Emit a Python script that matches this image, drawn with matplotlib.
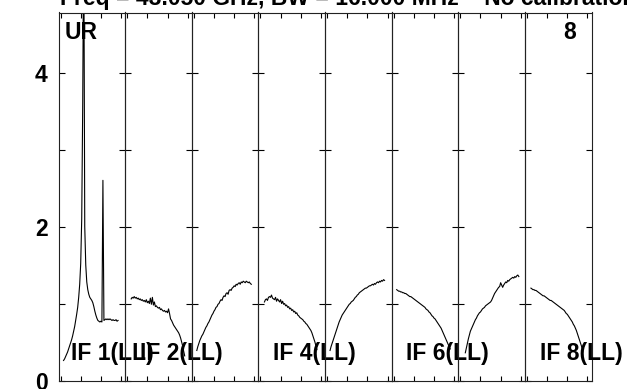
import matplotlib
matplotlib.use("Agg")
import matplotlib.pyplot as plt
import numpy as np

plt.rcParams['font.family'] = ['Liberation Sans', 'DejaVu Sans']

title_text = "Freq = 43.050 GHz, BW = 16.000 MHz    No calibration"
panel_labels = ["IF 1(LL)", "IF 2(LL)", "", "IF 4(LL)", "", "IF 6(LL)", "", "IF 8(LL)"]
ytick_vals = [0, 1, 2, 3, 4]
ytick_labels = ["0", "", "2", "", "4"]
xtick_vals = [0, 20, 40, 60]

# channel start for each panel and amplitude values
ch_start = [3, 4, 3, 4, 3, 3, 5, 4]

amp1 = [0.26, 0.28, 0.31, 0.34, 0.37, 0.41, 0.45, 0.49, 0.53, 0.58, 0.64, 0.70, 0.78,
        0.86, 0.95, 1.08, 1.25, 1.52, 2.10, 3.60, 6.00, 2.00, 1.50, 1.28, 1.18, 1.12,
        1.08, 1.06, 1.04, 1.01, 0.96, 0.90, 0.85, 0.81, 0.78, 0.77, 0.76, 0.77, 0.76,
        2.60, 0.78, 0.79, 0.80, 0.79, 0.80, 0.79, 0.80, 0.79, 0.78, 0.79, 0.78, 0.78,
        0.79, 0.77, 0.78]
amp2 = [1.06, 1.08, 1.07, 1.09, 1.07, 1.08, 1.06, 1.07, 1.05, 1.06, 1.04, 1.05, 1.03,
        1.04, 1.02, 1.05, 1.01, 1.03, 1.00, 1.07, 0.99, 1.08, 0.98, 1.02, 0.96, 0.97,
        0.95, 0.94, 0.95, 0.92, 0.93, 0.91, 0.90, 0.91, 0.89, 0.90, 0.88, 0.93, 0.87,
        0.80, 0.78, 0.75, 0.72, 0.70, 0.68, 0.66, 0.64, 0.62, 0.59, 0.55, 0.50, 0.45,
        0.38, 0.32]
amp3 = [0.39, 0.44, 0.48, 0.52, 0.55, 0.58, 0.60, 0.63, 0.66, 0.69, 0.71, 0.74, 0.76,
        0.79, 0.82, 0.85, 0.87, 0.90, 0.92, 0.95, 0.96, 0.99, 1.00, 1.03, 1.05, 1.04,
        1.08, 1.10, 1.09, 1.13, 1.14, 1.12, 1.17, 1.18, 1.17, 1.20, 1.21, 1.23, 1.22,
        1.25, 1.24, 1.26, 1.27, 1.25, 1.28, 1.27, 1.29, 1.28, 1.27, 1.29, 1.28, 1.27,
        1.28, 1.26, 1.25]
amp4 = [1.02, 1.05, 1.06, 1.04, 1.08, 1.09, 1.08, 1.11, 1.07, 1.06, 1.05, 1.08, 1.03,
        1.06, 1.04, 1.02, 1.05, 1.00, 1.03, 0.99, 1.00, 0.97, 0.98, 0.95, 0.96, 0.93,
        0.94, 0.91, 0.92, 0.89, 0.90, 0.87, 0.88, 0.85, 0.84, 0.82, 0.81, 0.80, 0.79,
        0.77, 0.76, 0.74, 0.73, 0.71, 0.69, 0.67, 0.65, 0.62, 0.58, 0.54, 0.50, 0.45,
        0.40]
amp5 = [0.39, 0.44, 0.48, 0.52, 0.56, 0.60, 0.64, 0.68, 0.72, 0.76, 0.79, 0.82, 0.85,
        0.87, 0.89, 0.91, 0.93, 0.95, 0.97, 0.99, 1.00, 1.02, 1.03, 1.04, 1.06, 1.08,
        1.09, 1.11, 1.12, 1.14, 1.15, 1.16, 1.17, 1.18, 1.19, 1.20, 1.20, 1.21, 1.22,
        1.23, 1.23, 1.24, 1.25, 1.24, 1.26, 1.25, 1.27, 1.28, 1.27, 1.29, 1.28, 1.30,
        1.29, 1.31, 1.30]
amp6 = [1.18, 1.17, 1.16, 1.16, 1.15, 1.15, 1.14, 1.14, 1.13, 1.13, 1.12, 1.11, 1.10,
        1.09, 1.09, 1.08, 1.07, 1.06, 1.05, 1.04, 1.03, 1.02, 1.01, 1.00, 0.99, 0.98,
        0.97, 0.96, 0.95, 0.93, 0.92, 0.91, 0.89, 0.88, 0.86, 0.84, 0.83, 0.81, 0.80,
        0.78, 0.76, 0.74, 0.72, 0.70, 0.68, 0.65, 0.62, 0.59, 0.56, 0.53, 0.50, 0.47,
        0.44, 0.41]
amp7 = [0.36, 0.42, 0.48, 0.54, 0.59, 0.64, 0.67, 0.70, 0.73, 0.76, 0.79, 0.81, 0.84,
        0.86, 0.88, 0.89, 0.91, 0.93, 0.94, 0.95, 0.97, 0.98, 0.99, 1.00, 1.01, 1.02,
        1.04, 1.07, 1.10, 1.13, 1.15, 1.17, 1.19, 1.21, 1.22, 1.27, 1.24, 1.21, 1.24,
        1.26, 1.28, 1.27, 1.30, 1.29, 1.31, 1.32, 1.33, 1.34, 1.33, 1.35, 1.34, 1.36,
        1.37, 1.35]
amp8 = [1.20, 1.19, 1.18, 1.18, 1.17, 1.17, 1.16, 1.15, 1.14, 1.13, 1.12, 1.11, 1.10,
        1.10, 1.09, 1.08, 1.07, 1.06, 1.05, 1.04, 1.04, 1.03, 1.02, 1.01, 1.00, 0.99,
        0.98, 0.97, 0.96, 0.95, 0.94, 0.93, 0.92, 0.91, 0.89, 0.87, 0.86, 0.84, 0.82,
        0.80, 0.78, 0.76, 0.73, 0.71, 0.68, 0.65, 0.61, 0.57, 0.53, 0.49, 0.45, 0.41]

amps = [amp1, amp2, amp3, amp4, amp5, amp6, amp7, amp8]

W, H = 631, 389
fig = plt.figure(figsize=(W / 100, H / 100), dpi=100)

left_px, right_px, top_px, bot_px = 58.5, 591.5, 12.5, 380.5
pw = (right_px - left_px) / 8
fs = 16.5

axes = []
for i in range(8):
    ax = fig.add_axes([(left_px + i * pw) / W, 1 - bot_px / H, pw / W, (bot_px - top_px) / H])
    ax.set_facecolor('none')
    ch = np.arange(ch_start[i], ch_start[i] + len(amps[i]))
    ax.plot(ch, amps[i], color='black', lw=0.8)
    ax.set_xlim(-2, 64)
    ax.set_ylim(0, 4.78)
    ax.set_xticks(xtick_vals)
    ax.set_xticklabels([])
    ax.set_yticks(ytick_vals)
    if i == 0:
        ax.set_yticklabels(ytick_labels, fontsize=fs, fontweight='bold')
    else:
        ax.set_yticklabels([])
    ax.tick_params(axis='both', direction='in', top=True, right=True,
                   width=0.8, color='black')
    ax.tick_params(axis='y', length=4.3, pad=8)
    ax.tick_params(axis='x', length=3.6)
    for s in ax.spines.values():
        s.set_linewidth(0.8)
        s.set_color('#222222')
    axes.append(ax)

for i, lab in enumerate(panel_labels):
    if lab:
        x0 = 10.5 if i == 0 else 12.5
        axes[i].text(x0, 0.26, lab, fontsize=fs, fontweight='bold', ha='left',
                     va='baseline', clip_on=False, zorder=10)

axes[0].text(4, 4.44, "UR", fontsize=fs, fontweight='bold', ha='left', va='baseline')
axes[7].text(49, 4.44, "8", fontsize=fs, fontweight='bold', ha='right', va='baseline')

fig.text(60 / W, 1 - 5 / H, title_text, fontsize=fs, fontweight='bold',
         ha='left', va='baseline')

fig.savefig("out.png", dpi=100)
